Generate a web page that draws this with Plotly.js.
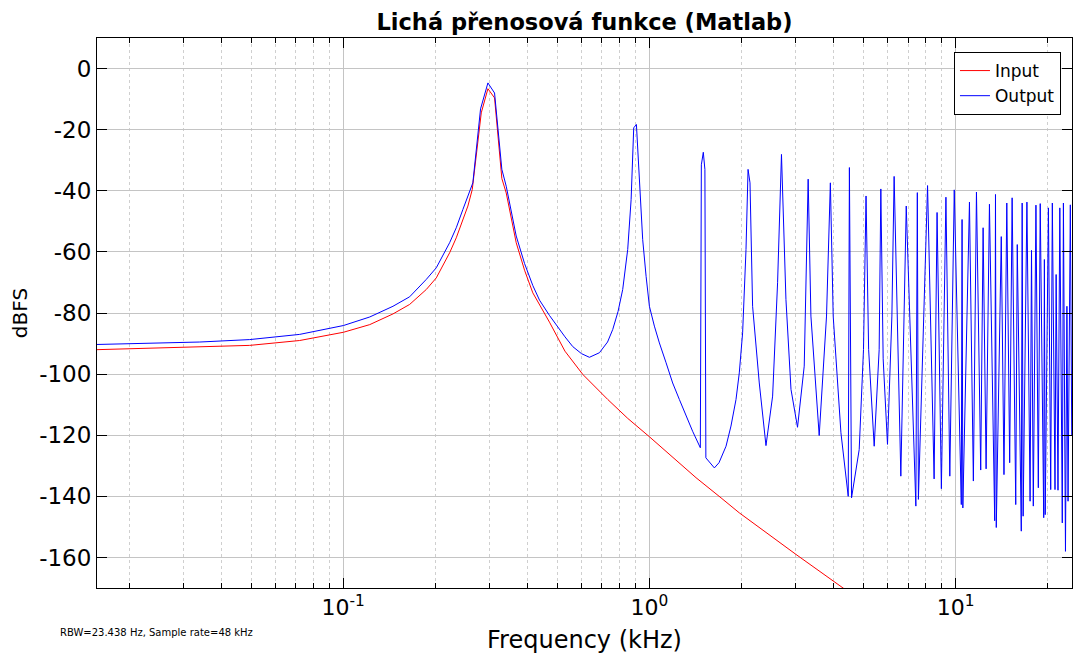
<!DOCTYPE html>
<html>
<head>
<meta charset="utf-8">
<script src="https://cdn.plot.ly/plotly-3.0.1.min.js"></script>
<style>html,body{margin:0;padding:0;background:#fff;}#chart{width:1073px;height:654px;}</style>
</head>
<body>
<div id="chart"></div>
<script>
// Input spectrum (kHz, dBFS)
const freqIn = [0.0157,0.0234,0.0340,0.0495,0.0721,0.1002,0.1221,0.1454,0.1648,0.1868,0.2014,0.2226,0.2340,0.2460,0.2554,0.2639,0.2824,0.2969,0.3121,0.3297,0.3407,0.3673,0.3911,0.4161,0.4717,0.5300,0.6060,0.7311,0.8500,1.0000,1.4200,1.7140,1.9660,3.0100,4.3600];
const dbIn   = [-92.0,-91.6,-91.2,-90.6,-89.0,-86.3,-83.8,-80.3,-77.2,-72.3,-68.5,-60.3,-55.4,-49.4,-45.0,-39.6,-14.5,-6.6,-9.6,-36.0,-40.7,-57.0,-66.0,-73.4,-83.0,-92.5,-100.1,-108.3,-114.5,-120.5,-133.9,-140.5,-145.4,-159.0,-170.5];

// Output spectrum (kHz, dBFS)
const freqOut = [0.0157,0.0234,0.0340,0.0495,0.0721,0.1002,0.1221,0.1454,0.1648,0.1868,0.2014,0.2226,0.2340,0.2460,0.2554,0.2651,0.2809,0.2969,0.3121,0.3297,0.3407,0.3673,0.3911,0.4161,0.4377,0.4717,0.5300,0.5620,0.6000,0.6370,0.6868,0.7300,0.7590,0.7900,0.8182,0.8495,0.8716,0.8888,0.9070,0.9228,0.9508,0.9755,1.0000,1.0383,1.0780,1.1337,1.1912,1.2528,1.3172,1.3841,1.4667,1.4780,1.5000,1.5180,1.5290,1.6300,1.6880,1.7793,1.8470,1.9180,1.9660,2.0158,2.0680,2.1000,2.1310,2.1730,2.2850,2.4030,2.5260,2.6220,2.7000,2.7925,2.9003,3.0462,3.2036,3.3000,3.3690,3.5856,3.7885,3.9000,3.9838,4.2224,4.4606,4.5000,4.5729,4.8441,5.0029,5.1000,5.2000,5.4222,5.6287,5.7000,5.8006,5.9926,6.1935,6.3000,6.6254,6.9000,7.4181,7.5000,7.5604,8.1000,8.5093,8.7000,8.9871,9.3000,9.5742,9.9000,10.440,10.500,10.560,11.100,11.430,11.700,12.080,12.300,12.580,12.900,13.420,13.500,13.580,14.100,14.390,14.700,15.020,15.300,15.720,15.900,16.390,16.500,16.620,17.100,17.510,17.700,17.940,18.300,18.630,18.900,19.400,19.500,19.620,20.100,20.450,20.700,21.120,21.300,21.600,21.900,22.310,22.500,22.850,23.100,23.300,23.700,23.950];
const dbOut   = [-90.3,-89.9,-89.5,-88.7,-87.0,-84.1,-81.3,-77.8,-74.7,-69.0,-65.2,-57.0,-52.1,-46.1,-41.8,-37.4,-13.2,-4.7,-8.0,-33.0,-38.5,-54.8,-63.8,-71.0,-75.8,-80.8,-87.8,-91.0,-93.3,-94.5,-93.0,-89.5,-85.4,-79.5,-72.3,-59.2,-42.9,-19.4,-18.3,-32.0,-56.0,-68.0,-77.8,-84.3,-89.8,-96.3,-102.9,-108.3,-113.8,-118.7,-124.1,-31.5,-27.4,-33.0,-127.4,-130.7,-129.0,-123.6,-117.0,-108.3,-99.6,-86.5,-59.2,-33.0,-37.4,-77.8,-102.9,-123.4,-107.2,-70.1,-28.1,-75.6,-105.0,-117.4,-97.4,-36.2,-81.0,-120.1,-81.0,-37.4,-81.0,-119.2,-140.0,-32.4,-140.5,-124.7,-92.0,-41.7,-92.0,-123.6,-92.0,-39.4,-95.0,-123.0,-81.0,-35.3,-133.4,-45.0,-143.2,-40.6,-141.0,-38.3,-134.3,-47.1,-137.5,-42.1,-133.4,-39.7,-142.7,-49.4,-143.8,-43.7,-135.0,-40.4,-131.4,-52.1,-131.0,-44.4,-148.0,-41.2,-150.2,-55.0,-132.9,-44.0,-129.0,-42.3,-142.7,-57.6,-151.4,-44.0,-146.5,-43.7,-141.6,-59.5,-143.2,-44.7,-137.2,-44.2,-147.0,-62.5,-146.0,-45.6,-137.8,-44.0,-137.8,-67.4,-138.0,-45.6,-148.7,-44.0,-158.0,-77.8,-141.6,-44.6,-120.0];

const xTickVals = [0.1, 1, 10];
const xTickText = ['10<sup>-1</sup>', '10<sup>0</sup>', '10<sup>1</sup>'];
const yTickVals = [-160, -140, -120, -100, -80, -60, -40, -20, 0];
const yTickText = ['-160', '-140', '-120', '-100', '-80', '-60', '-40', '-20', '0'];

const FONT = 'DejaVu Sans, Verdana, sans-serif';

const traces = [
  {x: freqIn, y: dbIn, type: 'scatter', mode: 'lines', name: 'Input',
   line: {color: '#ff0000', width: 1}},
  {x: freqOut, y: dbOut, type: 'scatter', mode: 'lines', name: 'Output',
   line: {color: '#0000ff', width: 1}}
];

const layout = {
  width: 1073, height: 654,
  margin: {l: 97, r: 1, t: 38, b: 66},
  paper_bgcolor: '#ffffff', plot_bgcolor: '#ffffff',
  font: {family: FONT, color: '#000', size: 21},
  title: {text: '<b>Lichá přenosová funkce (Matlab)</b>', font: {family: FONT, size: 22.5, color: '#000'},
          x: 0.5, xref: 'paper', xanchor: 'center', y: 1 - 22/654, yref: 'container', yanchor: 'middle'},
  showlegend: true,
  legend: {x: 0.9887, xanchor: 'right', y: 0.9745, yanchor: 'top',
           bgcolor: '#ffffff', bordercolor: '#000', borderwidth: 1,
           font: {family: FONT, size: 17, color: '#000'}, tracegroupgap: 0, itemwidth: 30},
  xaxis: {
    type: 'log', range: [Math.log10(0.0157), Math.log10(24)],
    tickmode: 'array', tickvals: xTickVals, ticktext: xTickText,
    ticks: 'inside', ticklen: 10, tickcolor: '#000', tickwidth: 1,
    showline: true, linecolor: '#000', linewidth: 1, mirror: 'ticks',
    showgrid: true, gridcolor: '#c4c4c4', gridwidth: 1,
    zeroline: false,
    tickfont: {family: FONT, size: 22, color: '#000'},
    minor: {dtick: 'D1', ticks: 'inside', ticklen: 5, tickcolor: '#000',
            showgrid: true, gridcolor: '#cfcfcf', griddash: 'dot', gridwidth: 1},
    title: {text: 'Frequency (kHz)', font: {family: FONT, size: 24, color: '#000'}, standoff: 12}
  },
  yaxis: {
    range: [-170, 10],
    tickmode: 'array', tickvals: yTickVals, ticktext: yTickText,
    ticks: 'inside', ticklen: 10, tickcolor: '#000', tickwidth: 1,
    showline: true, linecolor: '#000', linewidth: 1, mirror: 'ticks',
    showgrid: true, gridcolor: '#c4c4c4', gridwidth: 1,
    zeroline: false,
    tickfont: {family: FONT, size: 23, color: '#000'},
    title: {text: 'dBFS', font: {family: FONT, size: 20, color: '#000'}, standoff: 6}
  },
  annotations: [{
    text: 'RBW=23.438 Hz, Sample rate=48 kHz', xref: 'paper', yref: 'paper',
    x: -0.04, y: -0.0818, xanchor: 'left', yanchor: 'middle', showarrow: false,
    font: {family: FONT, size: 10, color: '#000'}
  }]
};

Plotly.newPlot('chart', traces, layout, {staticPlot: true, displayModeBar: false});
</script>
</body>
</html>
